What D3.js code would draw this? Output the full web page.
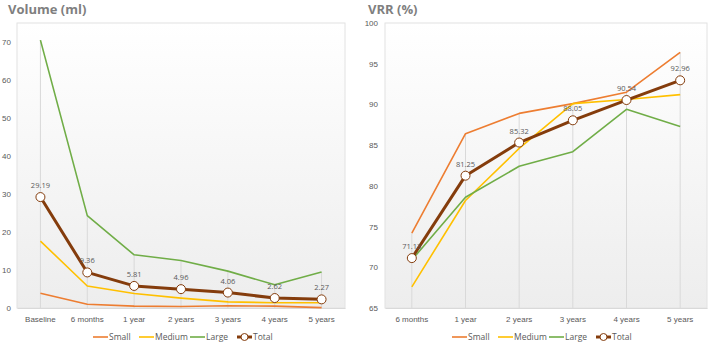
<!DOCTYPE html>
<html lang="en">
  <head>
    <meta charset="utf-8">
    <title>Volume and VRR</title>
    <script type="text/javascript" src="https://d3js.org/d3.v7.min.js"></script>
    <style type="text/css">
      html, body { margin: 0; padding: 0; background: #fff; }
      svg { display: block; font-family: "Open Sans", "Noto Sans", sans-serif; }
      .title { font-size: 13px; font-weight: bold; fill: #7f7f7f; }
      .tick text { font-size: 8px; fill: #595959; }
      .lbl { font-size: 7.5px; fill: #595959; }
      .leg { font-size: 8.5px; fill: #595959; }
    </style>
  </head>
  <body>
    <script type="text/javascript">
      // volume chart
      var volCats = ["Baseline", "6 months", "1 year", "2 years", "3 years", "4 years", "5 years"];
      var volSmall = [3.9, 1.0, 0.5, 0.4, 0.6, 0.5, 0.1];
      var volMedium = [17.6, 5.8, 3.8, 2.6, 1.6, 1.4, 1.4];
      var volLarge = [70.5, 24.3, 14.0, 12.5, 9.7, 6.1, 9.5];
      var volTotal = [29.19, 9.36, 5.81, 4.96, 4.06, 2.62, 2.27];
      var volTicks = [0, 10, 20, 30, 40, 50, 60, 70];

      // VRR chart
      var vrrCats = ["6 months", "1 year", "2 years", "3 years", "4 years", "5 years"];
      var vrrSmall = [74.2, 86.4, 88.9, 90.1, 91.5, 96.4];
      var vrrMedium = [67.6, 78.2, 84.6, 90.1, 90.6, 91.2];
      var vrrLarge = [70.9, 78.6, 82.4, 84.2, 89.4, 87.3];
      var vrrTotal = [71.13, 81.25, 85.32, 88.05, 90.54, 92.96];
      var vrrTicks = [65, 70, 75, 80, 85, 90, 95, 100];

      var seriesNames = ["Small", "Medium", "Large", "Total"];
      var colors = {Small: "#ed7d31", Medium: "#ffc000", Large: "#70ad47", Total: "#843c0c"};

      var svg = d3.select("body").append("svg")
        .attr("width", 709)
        .attr("height", 342);

      var defs = svg.append("defs");
      var grad = defs.append("linearGradient")
        .attr("id", "bg").attr("x1", 0).attr("y1", 0).attr("x2", 0).attr("y2", 1);
      grad.append("stop").attr("offset", "0%").attr("stop-color", "#ffffff");
      grad.append("stop").attr("offset", "100%").attr("stop-color", "#ededed");

      function drawChart(opt) {
        var g = svg.append("g");
        var x = d3.scaleBand().domain(opt.cats).range([opt.left, opt.right]);
        var y = d3.scaleLinear().domain(opt.domain).range([opt.bottom, opt.top]);

        g.append("text").attr("class", "title")
          .attr("x", opt.titleX).attr("y", 14)
          .text(opt.title);

        g.append("rect")
          .attr("x", opt.left).attr("y", opt.top)
          .attr("width", opt.right - opt.left).attr("height", opt.bottom - opt.top)
          .attr("fill", "url(#bg)")
          .attr("stroke", "#e2e2e2").attr("stroke-width", 1);

        var cx = function(i) { return x(opt.cats[i]) + x.bandwidth() / 2; };

        // drop lines from the highest point
        var series = [opt.small, opt.medium, opt.large, opt.total];
        g.selectAll(".drop").data(opt.cats).enter().append("line")
          .attr("class", "drop")
          .attr("x1", function(d, i) { return cx(i); })
          .attr("x2", function(d, i) { return cx(i); })
          .attr("y1", function(d, i) { return y(d3.max(series, function(s) { return s[i]; })); })
          .attr("y2", opt.bottom)
          .attr("stroke", "#d9d9d9").attr("stroke-width", 1);

        // y axis
        var yAxis = d3.axisLeft(y).tickValues(opt.ticks).tickSize(0).tickPadding(6);
        var ya = g.append("g").attr("transform", "translate(" + opt.labelX + ",0)").call(yAxis);
        ya.select(".domain").remove();

        // x axis
        var xAxis = d3.axisBottom(x).tickSize(0).tickPadding(8);
        var xa = g.append("g").attr("transform", "translate(0," + opt.bottom + ")").call(xAxis);
        xa.select(".domain").attr("stroke", "#d9d9d9");

        var line = d3.line()
          .x(function(d, i) { return cx(i); })
          .y(function(d) { return y(d); });

        [["Small", opt.small, 1.6], ["Medium", opt.medium, 1.6], ["Large", opt.large, 1.6]].forEach(function(s) {
          g.append("path").datum(s[1])
            .attr("d", line)
            .attr("fill", "none")
            .attr("stroke", colors[s[0]])
            .attr("stroke-width", s[2])
            .attr("stroke-linejoin", "round");
        });

        g.append("path").datum(opt.total)
          .attr("d", line)
          .attr("fill", "none")
          .attr("stroke", colors.Total)
          .attr("stroke-width", 3)
          .attr("stroke-linejoin", "round");

        g.selectAll(".mk").data(opt.total).enter().append("circle")
          .attr("class", "mk")
          .attr("cx", function(d, i) { return cx(i); })
          .attr("cy", function(d) { return y(d); })
          .attr("r", 4.5)
          .attr("fill", "#fff")
          .attr("stroke", colors.Total)
          .attr("stroke-width", 1);

        g.selectAll(".lbl").data(opt.total).enter().append("text")
          .attr("class", "lbl")
          .attr("x", function(d, i) { return cx(i); })
          .attr("y", function(d) { return y(d) - 9; })
          .attr("text-anchor", "middle")
          .text(function(d) { return d.toFixed(2); });

        // legend
        var leg = g.append("g").attr("transform", "translate(" + opt.legendX + ",337)");
        var widths = [46, 51, 47, 40];
        var off = 0;
        seriesNames.forEach(function(n, i) {
          var item = leg.append("g").attr("transform", "translate(" + off + ",0)");
          item.append("line").attr("x1", 0).attr("x2", 15).attr("y1", 0).attr("y2", 0)
            .attr("stroke", colors[n]).attr("stroke-width", n === "Total" ? 3 : 1.6);
          if (n === "Total") {
            item.append("circle").attr("cx", 7.5).attr("cy", 0).attr("r", 3.5)
              .attr("fill", "#fff").attr("stroke", colors[n]).attr("stroke-width", 1);
          }
          item.append("text").attr("class", "leg").attr("x", 16).attr("y", 3).text(n);
          off += widths[i];
        });
      }

      drawChart({
        title: "Volume (ml)", titleX: 8,
        cats: volCats, small: volSmall, medium: volMedium, large: volLarge, total: volTotal,
        ticks: volTicks, domain: [0, 75],
        left: 17, right: 345, top: 23, bottom: 308, labelX: 17,
        legendX: 93
      });

      drawChart({
        title: "VRR (%)", titleX: 368,
        cats: vrrCats, small: vrrSmall, medium: vrrMedium, large: vrrLarge, total: vrrTotal,
        ticks: vrrTicks, domain: [65, 100],
        left: 385, right: 707, top: 23, bottom: 308, labelX: 384,
        legendX: 452
      });
    </script>
  </body>
</html>
